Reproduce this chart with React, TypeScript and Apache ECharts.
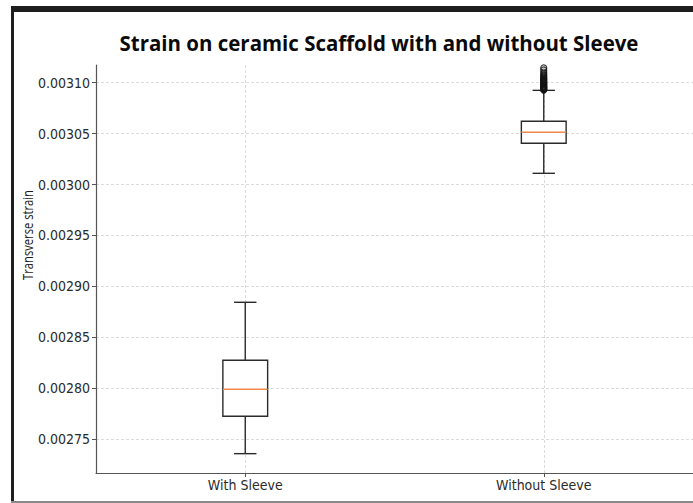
import React, { useEffect, useRef } from "react";
import * as echarts from "echarts";

const CATEGORIES = ["With Sleeve", "Without Sleeve"];
const POSITIONS = [1, 2];
// [low whisker, Q1, median, Q3, high whisker]
const WITH_SLEEVE = [0.0027356, 0.0027723, 0.0027988, 0.0028273, 0.0028843];
const WITHOUT_SLEEVE = [0.003011, 0.0030405, 0.0030513, 0.0030621, 0.0030925];
const OUTLIERS_WITHOUT = [
  0.0030928, 0.0030933, 0.0030938, 0.0030943, 0.0030948, 0.0030953, 0.0030958,
  0.0030963, 0.003097, 0.0030977, 0.0030984, 0.0030991, 0.0030998, 0.0031005,
  0.0031012, 0.003102, 0.0031028, 0.0031036, 0.0031045, 0.0031055, 0.0031066,
  0.0031078, 0.003109, 0.0031105, 0.0031125, 0.0031145,
];
const Y_TICKS = [0.00275, 0.0028, 0.00285, 0.0029, 0.00295, 0.003, 0.00305, 0.0031];
const Y_MIN = 0.0027166;
const Y_MAX = 0.0031174;
const BOX_W = 0.15;

export default function App() {
  const ref = useRef<HTMLDivElement>(null);
  useEffect(() => {
    if (!ref.current) return;
    const chart = echarts.init(ref.current, null, { renderer: "svg" });
    const boxData = [
      [POSITIONS[0], ...WITH_SLEEVE],
      [POSITIONS[1], ...WITHOUT_SLEEVE],
    ];
    const outlierData = OUTLIERS_WITHOUT.map((v) => [POSITIONS[1], v]);
    const tickFont = "DejaVu Sans Condensed";
    chart.setOption({
      animation: false,
      backgroundColor: "#ffffff",
      grid: { left: 96, right: -2, top: 65, bottom: 30, containLabel: false },
      xAxis: {
        type: "value",
        min: 0.5,
        max: 2.5,
        axisLine: { show: true, onZero: false, lineStyle: { color: "#555", width: 1.2 } },
        axisTick: { show: true, customValues: POSITIONS, length: 4, lineStyle: { color: "#555" } },
        axisLabel: {
          customValues: POSITIONS,
          formatter: (v: number) => CATEGORIES[Math.round(v) - 1],
          fontFamily: tickFont,
          fontSize: 14,
          color: "#2a2a2a",
          margin: 5,
        },
        splitLine: { show: true, lineStyle: { type: [3, 2], color: "#d2d2d2", width: 0.8 } },
      },
      yAxis: {
        type: "value",
        min: Y_MIN,
        max: Y_MAX,
        axisLine: { show: true, lineStyle: { color: "#555", width: 1.2 } },
        axisTick: { show: true, customValues: Y_TICKS, length: 4, lineStyle: { color: "#555" } },
        axisLabel: {
          customValues: Y_TICKS,
          formatter: (v: number) => v.toFixed(5),
          fontFamily: tickFont,
          fontSize: 14,
          color: "#2a2a2a",
          margin: 6,
        },
        splitLine: { show: true, lineStyle: { type: [3, 2], color: "#d2d2d2", width: 0.8 } },
      },
      series: [
        {
          type: "custom",
          data: boxData,
          encode: { x: 0, y: [1, 2, 3, 4, 5] },
          renderItem: (params: any, api: any) => {
            const x = api.value(0);
            const lo = api.coord([x, api.value(1)]);
            const q1 = api.coord([x, api.value(2)]);
            const med = api.coord([x, api.value(3)]);
            const q3 = api.coord([x, api.value(4)]);
            const hi = api.coord([x, api.value(5)]);
            const w = api.size([BOX_W, 0])[0];
            const cx = lo[0];
            const st = { stroke: "#2b2b2b", lineWidth: 1.4, fill: null };
            return {
              type: "group",
              children: [
                { type: "line", shape: { x1: cx, y1: q3[1], x2: cx, y2: hi[1] }, style: st },
                { type: "line", shape: { x1: cx, y1: q1[1], x2: cx, y2: lo[1] }, style: st },
                { type: "line", shape: { x1: cx - w / 4, y1: hi[1], x2: cx + w / 4, y2: hi[1] }, style: st },
                { type: "line", shape: { x1: cx - w / 4, y1: lo[1], x2: cx + w / 4, y2: lo[1] }, style: st },
                {
                  type: "rect",
                  shape: { x: cx - w / 2, y: q3[1], width: w, height: q1[1] - q3[1] },
                  style: { stroke: "#2b2b2b", lineWidth: 1.4, fill: "#ffffff" },
                },
                {
                  type: "line",
                  shape: { x1: cx - w / 2, y1: med[1], x2: cx + w / 2, y2: med[1] },
                  style: { stroke: "#f08848", lineWidth: 1.5 },
                },
              ],
            };
          },
          z: 3,
        },
        {
          type: "scatter",
          data: outlierData,
          symbol: "circle",
          symbolSize: 6,
          itemStyle: { color: "rgba(0,0,0,0)", borderColor: "#111", borderWidth: 1.2 },
          z: 4,
        },
      ],
      graphic: [
        { type: "rect", shape: { x: 11, y: 6, width: 682, height: 6 }, style: { fill: "#1e1e1e" }, z: 100 },
        { type: "rect", shape: { x: 11, y: 6, width: 3, height: 496 }, style: { fill: "#1e1e1e" }, z: 100 },
        { type: "rect", shape: { x: 11, y: 501, width: 682, height: 2 }, style: { fill: "#8a8a8a" }, z: 100 },
        {
          type: "text",
          x: 379,
          y: 42,
          scaleX: 0.93,
          style: {
            text: "Strain on ceramic Scaffold with and without Sleeve",
            font: "bold 22px 'Open Sans'",
            fill: "#0a0a0a",
            textAlign: "center",
            textVerticalAlign: "middle",
          },
          z: 100,
        },
        {
          type: "text",
          x: 27,
          y: 235,
          rotation: Math.PI / 2,
          scaleX: 0.8,
          style: {
            text: "Transverse strain",
            font: "14px 'Open Sans'",
            fill: "#1a1a1a",
            textAlign: "center",
            textVerticalAlign: "middle",
          },
          z: 100,
        },
      ],
    });
    return () => chart.dispose();
  }, []);
  return (
    <div
      ref={ref}
      style={{ position: "absolute", left: 0, top: 0, width: 693, height: 503 }}
    />
  );
}
